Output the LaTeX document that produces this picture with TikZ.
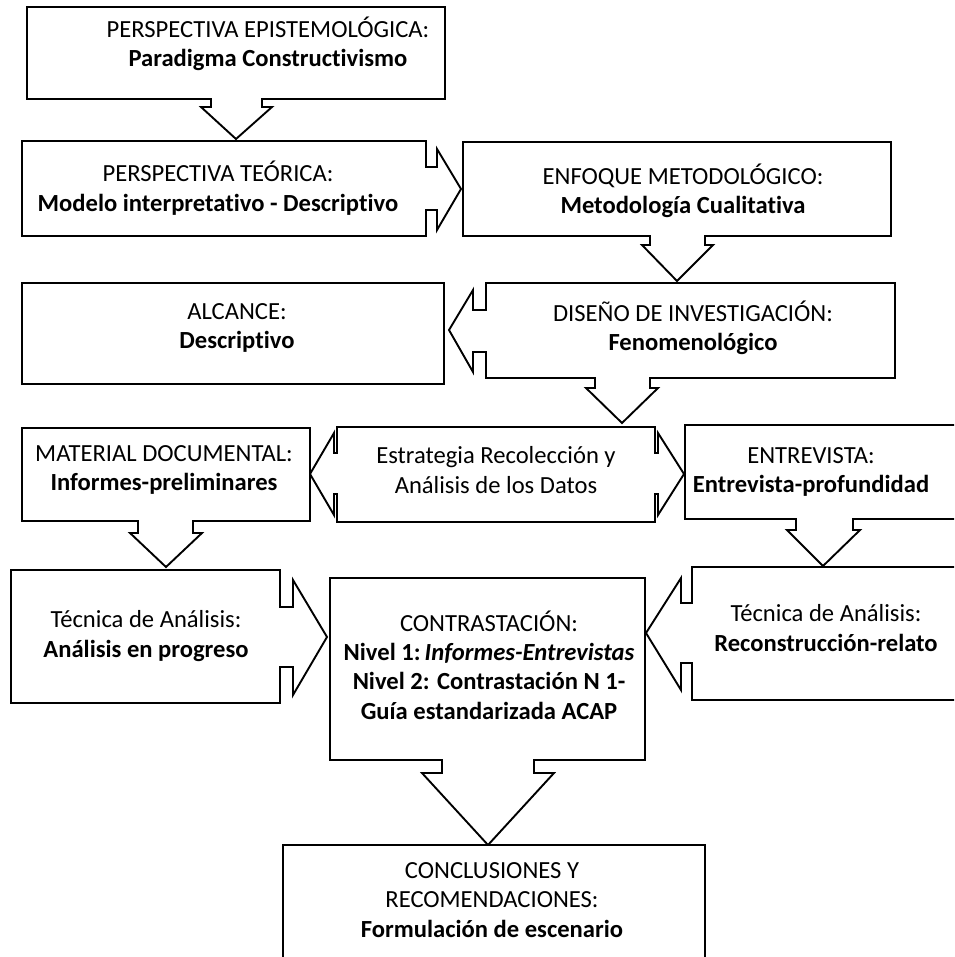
\documentclass[tikz,border=0pt]{standalone}
\usepackage{fontspec}
\setmainfont{Carlito}[Ligatures=NoCommon,Contextuals=NoAlternate]
\begin{document}
\begin{tikzpicture}[x=1pt,y=-1pt,
  callout/.style={draw=black,fill=white,line width=1.9pt,line join=miter},
  label/.style={align=center,inner sep=0pt,font=\fontsize{24.6}{29.4}\selectfont,text=black}]
\useasboundingbox (0,0) rectangle (954,957);
\clip (0,0) rectangle (954,957);

% Box 1: Perspectiva epistemologica (down arrow)
\draw[callout] (27,7) -- (445,7) -- (445,99) -- (262,99) -- (262,107) -- (272,107) -- (236,139)
  -- (201,107) -- (211,107) -- (211,99) -- (27,99) -- cycle;
\node[label] (epist) at (268,44) {PERSPECTIVA EPISTEMOLÓGICA:\\\textbf{Paradigma Constructivismo}};

% Box 2: Perspectiva teorica (right arrow)
\draw[callout] (22,141) -- (426,141) -- (426,167) -- (437,167) -- (437,149) -- (461,189)
  -- (437,230) -- (437,210) -- (426,210) -- (426,236) -- (22,236) -- cycle;
\node[label] (teor) at (218,188) {PERSPECTIVA TEÓRICA:\\\textbf{Modelo interpretativo - Descriptivo}};

% Box 3: Enfoque metodologico (down arrow)
\draw[callout] (463,142) -- (891,142) -- (891,236) -- (705,236) -- (705,245) -- (713,245) -- (677,281)
  -- (642,245) -- (650,245) -- (650,236) -- (463,236) -- cycle;
\node[label] (enfo) at (683,191) {ENFOQUE METODOLÓGICO:\\\textbf{Metodología Cualitativa}};

% Box 4: Diseno (left arrow + down arrow)
\draw[callout] (486,283) -- (895,283) -- (895,378) -- (650,378) -- (650,388) -- (658,388) -- (622,423)
  -- (586,388) -- (595,388) -- (595,378) -- (486,378) -- (486,352) -- (473,352) -- (473,372)
  -- (449,330) -- (473,290) -- (473,310) -- (486,310) -- cycle;
\node[label] (dise) at (693,328) {DISEÑO DE INVESTIGACIÓN:\\\textbf{Fenomenológico}};

% Alcance
\draw[callout] (22,283) rectangle (444,384);
\node[label] (alca) at (237,328) {ALCANCE:\\\textbf{Descriptivo}};

% Estrategia (left-right arrows)
\draw[callout] (337,427) -- (655,427) -- (655,453) -- (658,453) -- (658,433) -- (684,474)
  -- (658,515) -- (658,494) -- (655,494) -- (655,522) -- (337,522) -- (337,494) -- (334,494)
  -- (334,515) -- (310,474) -- (334,433) -- (334,453) -- (337,453) -- cycle;
\node[label] (estr) at (496,470) {Estrategia Recolección y\\Análisis de los Datos};

% Material documental (down arrow)
\draw[callout] (22,428) -- (310,428) -- (310,521) -- (193,521) -- (193,533) -- (202,533) -- (166,567)
  -- (130,533) -- (138,533) -- (138,521) -- (22,521) -- cycle;
\node[label] (mate) at (164,470) {MATERIAL DOCUMENTAL:\\\textbf{Informes-preliminares}};

% Entrevista (down arrow)
\draw[callout] (685,425) -- (965,425) -- (965,519) -- (853,519) -- (853,530) -- (860,530) -- (823,566)
  -- (787,530) -- (796,530) -- (796,519) -- (685,519) -- cycle;
\node[label] (entr) at (811,472) {ENTREVISTA:\\\textbf{Entrevista-profundidad}};

% Tecnica left (right arrow)
\draw[callout] (11,570) -- (280,570) -- (280,607) -- (293,607) -- (293,580) -- (327,637)
  -- (293,695) -- (293,667) -- (280,667) -- (280,703) -- (11,703) -- cycle;
\node[label] (tecl) at (146,636) {Técnica de Análisis:\\\textbf{Análisis en progreso}};

% Contrastacion (down arrow)
\draw[callout] (330,578) -- (645,578) -- (645,760) -- (534,760) -- (534,773) -- (554,773) -- (488,845)
  -- (422,773) -- (442,773) -- (442,760) -- (330,760) -- cycle;
\node[label] (cont) at (489,665) {CONTRASTACIÓN:\\\textbf{Nivel 1:\,\textit{Informes-Entrevistas}}\\\textbf{Nivel 2: Contrastación N 1-}\\\textbf{Guía estandarizada ACAP}};

% Tecnica right (left arrow)
\draw[callout] (692,567) -- (965,567) -- (965,700) -- (692,700) -- (692,663) -- (681,663) -- (681,690)
  -- (646,633) -- (681,578) -- (681,603) -- (692,603) -- cycle;
\node[label] (tecr) at (826,628) {Técnica de Análisis:\\\textbf{Reconstrucción-relato}};

% Conclusiones
\draw[callout] (283,845) -- (705,845) -- (705,970) -- (283,970) -- cycle;
\node[label] (conc) at (492,900) {CONCLUSIONES Y\\RECOMENDACIONES:\\\textbf{Formulación de escenario}};
\end{tikzpicture}
\end{document}
